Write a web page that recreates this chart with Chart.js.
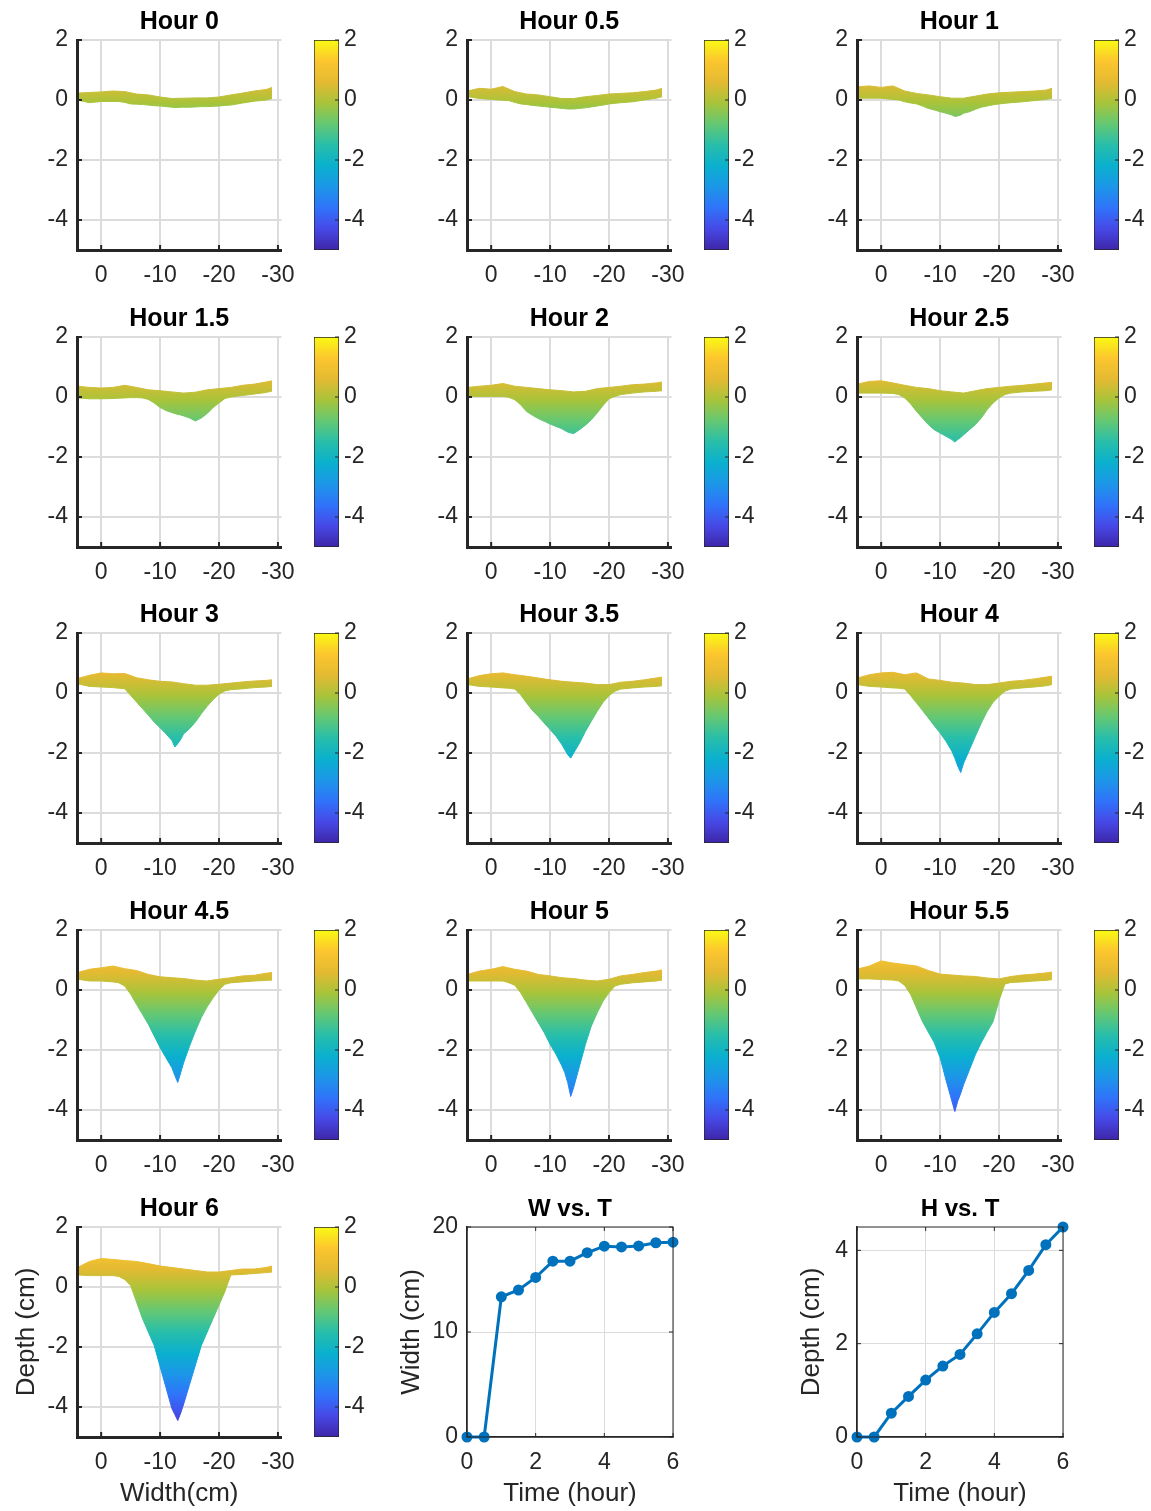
<!DOCTYPE html>
<html>
<head>
<meta charset="utf-8">
<title>Scour profiles</title>
<script src="https://cdn.jsdelivr.net/npm/chart.js@4.4.1/dist/chart.umd.min.js"></script>
<style>
  body { margin: 0; background: #fff; width: 1151px; height: 1511px; overflow: hidden; position: relative; }
  canvas { position: absolute; }
</style>
</head>
<body>
<script>
// time steps and the two summary series
const hours = [0, 0.5, 1, 1.5, 2, 2.5, 3, 3.5, 4, 4.5, 5, 5.5, 6];
const widthCm = [0, 0, 13.35, 14.0, 15.2, 16.75, 16.75, 17.55, 18.17, 18.1, 18.2, 18.5, 18.55];
const depthCm = [0, 0, 0.51, 0.87, 1.22, 1.52, 1.77, 2.21, 2.67, 3.07, 3.57, 4.12, 4.5];

// tick labels
const xTicks = [0, -10, -20, -30];
const yTicks = [2, 0, -2, -4];
const timeTicks = [0, 2, 4, 6];
const widthTicks = [0, 10, 20];
const depthTicks = [0, 2, 4];
const cbarRange = [-5, 2];

// x positions (cm) of the surface top edge and of the scour bottom edge
const topX = [4, 2, 0, -2, -4, -6, -8, -10, -12, -14, -16, -18, -20, -22, -24, -26, -28, -29];
const botX = [4, 2, 0, -2, -3, -4, -5, -6, -7, -8, -9, -10, -11, -12, -12.5, -13, -13.5, -14,
              -15, -16, -17, -18, -19, -20, -21, -22, -24, -26, -28, -29];

// upper edge of the scanned surface, one row per hour
const surfaceTop = [
  [0.23, 0.25, 0.27, 0.3, 0.28, 0.2, 0.17, 0.1, 0.05, 0.06, 0.07, 0.07, 0.1, 0.17, 0.23, 0.3, 0.35, 0.42],
  [0.3, 0.39, 0.36, 0.45, 0.28, 0.2, 0.17, 0.11, 0.05, 0.05, 0.11, 0.15, 0.2, 0.22, 0.24, 0.28, 0.33, 0.39],
  [0.44, 0.47, 0.42, 0.47, 0.3, 0.22, 0.17, 0.11, 0.06, 0.06, 0.13, 0.2, 0.24, 0.26, 0.28, 0.3, 0.33, 0.39],
  [0.36, 0.32, 0.3, 0.32, 0.39, 0.32, 0.24, 0.21, 0.17, 0.13, 0.16, 0.24, 0.28, 0.32, 0.39, 0.43, 0.5, 0.54],
  [0.32, 0.36, 0.39, 0.45, 0.36, 0.32, 0.28, 0.24, 0.21, 0.17, 0.19, 0.28, 0.32, 0.36, 0.41, 0.43, 0.47, 0.5],
  [0.43, 0.52, 0.54, 0.47, 0.39, 0.32, 0.28, 0.21, 0.17, 0.13, 0.21, 0.28, 0.32, 0.36, 0.39, 0.43, 0.47, 0.49],
  [0.48, 0.59, 0.67, 0.64, 0.65, 0.51, 0.44, 0.39, 0.37, 0.31, 0.26, 0.26, 0.29, 0.33, 0.37, 0.4, 0.42, 0.44],
  [0.47, 0.58, 0.64, 0.67, 0.61, 0.56, 0.5, 0.44, 0.39, 0.36, 0.33, 0.28, 0.28, 0.36, 0.39, 0.44, 0.5, 0.53],
  [0.5, 0.61, 0.67, 0.69, 0.61, 0.67, 0.47, 0.42, 0.36, 0.33, 0.28, 0.28, 0.33, 0.39, 0.42, 0.47, 0.53, 0.56],
  [0.58, 0.69, 0.74, 0.8, 0.71, 0.65, 0.52, 0.44, 0.41, 0.38, 0.33, 0.3, 0.36, 0.41, 0.47, 0.49, 0.56, 0.58],
  [0.52, 0.63, 0.69, 0.78, 0.69, 0.63, 0.52, 0.47, 0.41, 0.38, 0.33, 0.3, 0.36, 0.47, 0.52, 0.58, 0.63, 0.67],
  [0.7, 0.8, 0.97, 0.9, 0.85, 0.8, 0.65, 0.53, 0.5, 0.47, 0.45, 0.4, 0.37, 0.45, 0.5, 0.53, 0.57, 0.6],
  [0.65, 0.85, 0.95, 0.92, 0.88, 0.85, 0.78, 0.7, 0.65, 0.6, 0.55, 0.5, 0.5, 0.55, 0.6, 0.6, 0.65, 0.7]
];

// lowest scanned point (scour bottom), one row per hour
const scourBottom = [
  [0.0, -0.09, -0.05, -0.05, -0.05, -0.08, -0.13, -0.14, -0.15, -0.17, -0.19, -0.2, -0.22, -0.24, -0.25, -0.25, -0.24, -0.24, -0.24, -0.23, -0.22, -0.22, -0.21, -0.2, -0.18, -0.17, -0.1, -0.04, 0.0, 0.05],
  [0.11, 0.05, 0.02, -0.01, -0.02, -0.08, -0.13, -0.15, -0.18, -0.2, -0.22, -0.24, -0.26, -0.28, -0.29, -0.3, -0.3, -0.3, -0.28, -0.26, -0.23, -0.2, -0.17, -0.13, -0.11, -0.09, -0.06, 0.0, 0.06, 0.11],
  [0.06, 0.06, 0.06, 0.02, 0.0, -0.06, -0.1, -0.13, -0.2, -0.28, -0.33, -0.39, -0.44, -0.5, -0.55, -0.53, -0.5, -0.44, -0.39, -0.31, -0.24, -0.2, -0.16, -0.13, -0.11, -0.09, -0.06, -0.02, 0.02, 0.06],
  [-0.03, -0.06, -0.06, -0.05, -0.04, -0.03, -0.02, -0.02, -0.03, -0.08, -0.2, -0.35, -0.45, -0.52, -0.55, -0.58, -0.6, -0.63, -0.7, -0.8, -0.7, -0.55, -0.35, -0.2, -0.05, 0.0, 0.05, 0.1, 0.15, 0.2],
  [0.02, 0.02, 0.02, 0.02, -0.01, -0.09, -0.26, -0.48, -0.61, -0.72, -0.81, -0.9, -0.98, -1.06, -1.12, -1.17, -1.2, -1.22, -1.09, -0.94, -0.76, -0.53, -0.28, -0.06, 0.02, 0.08, 0.13, 0.17, 0.19, 0.21],
  [0.13, 0.13, 0.13, 0.12, 0.08, -0.03, -0.23, -0.48, -0.7, -0.92, -1.09, -1.2, -1.31, -1.42, -1.5, -1.42, -1.35, -1.26, -1.09, -0.92, -0.7, -0.42, -0.2, -0.03, 0.08, 0.13, 0.17, 0.19, 0.21, 0.24],
  [0.31, 0.22, 0.2, 0.18, 0.16, 0.14, -0.08, -0.3, -0.52, -0.74, -0.97, -1.16, -1.36, -1.58, -1.8, -1.69, -1.55, -1.36, -1.19, -0.97, -0.69, -0.44, -0.22, -0.04, 0.07, 0.11, 0.14, 0.18, 0.2, 0.22],
  [0.28, 0.22, 0.2, 0.17, 0.16, 0.13, -0.06, -0.33, -0.58, -0.78, -1.0, -1.22, -1.44, -1.72, -1.89, -2.06, -2.17, -2.0, -1.67, -1.28, -0.94, -0.61, -0.31, -0.09, 0.06, 0.13, 0.17, 0.2, 0.22, 0.24],
  [0.28, 0.22, 0.2, 0.17, 0.16, 0.13, -0.09, -0.33, -0.58, -0.83, -1.09, -1.33, -1.61, -1.94, -2.17, -2.44, -2.65, -2.33, -1.89, -1.44, -1.0, -0.61, -0.31, -0.11, 0.06, 0.13, 0.17, 0.2, 0.24, 0.28],
  [0.36, 0.3, 0.3, 0.27, 0.24, 0.13, -0.14, -0.48, -0.81, -1.14, -1.53, -1.92, -2.26, -2.59, -2.85, -3.08, -2.76, -2.42, -1.87, -1.37, -0.92, -0.56, -0.26, 0.0, 0.19, 0.24, 0.27, 0.3, 0.32, 0.33],
  [0.3, 0.3, 0.3, 0.3, 0.24, 0.16, -0.09, -0.42, -0.76, -1.09, -1.42, -1.81, -2.14, -2.53, -2.76, -3.09, -3.55, -3.25, -2.53, -1.81, -1.2, -0.76, -0.37, -0.09, 0.13, 0.19, 0.24, 0.27, 0.3, 0.33],
  [0.37, 0.37, 0.35, 0.33, 0.3, 0.15, -0.15, -0.6, -1.05, -1.4, -1.75, -2.25, -3.0, -3.7, -4.05, -3.7, -3.45, -3.15, -2.65, -2.15, -1.75, -1.39, -1.05, -0.35, 0.2, 0.25, 0.27, 0.3, 0.32, 0.35],
  [0.4, 0.38, 0.38, 0.38, 0.35, 0.25, 0.05, -0.5, -1.05, -1.5, -1.95, -2.65, -3.35, -4.05, -4.25, -4.45, -4.2, -3.9, -3.25, -2.6, -1.95, -1.5, -1.05, -0.6, -0.15, 0.4, 0.42, 0.45, 0.48, 0.5]
];

// parula-like colormap, 0 = bottom of colour range, 1 = top
const parulaStops = [
  [0.00, 'rgb(62,38,168)'],
  [0.10, 'rgb(71,72,230)'],
  [0.20, 'rgb(48,115,250)'],
  [0.30, 'rgb(28,150,232)'],
  [0.40, 'rgb(10,176,206)'],
  [0.50, 'rgb(40,190,170)'],
  [0.60, 'rgb(100,200,115)'],
  [0.70, 'rgb(168,196,58)'],
  [0.80, 'rgb(228,186,50)'],
  [0.90, 'rgb(252,198,46)'],
  [1.00, 'rgb(249,250,20)']
];

// layout of the 5x3 grid of axes
const colLeft = [77, 467, 857];
const rowTop = [40, 337, 633, 930, 1227];
const PLOT_W = 205, PLOT_H = 210;
const INK = '#262626';
const GRID = '#dcdcdc';

Chart.defaults.font.family = '"Liberation Sans", Arial, Helvetica, sans-serif';
Chart.defaults.color = INK;
Chart.defaults.animation = false;
Chart.defaults.plugins.legend.display = false;
Chart.defaults.plugins.tooltip.enabled = false;

function makeCanvas(left, top, w, h) {
  const c = document.createElement('canvas');
  c.width = w;
  c.height = h;
  c.style.left = left + 'px';
  c.style.top = top + 'px';
  c.style.width = w + 'px';
  c.style.height = h + 'px';
  document.body.appendChild(c);
  return c;
}

const fixedTicks = vals => scale => { scale.ticks = vals.map(v => ({ value: v })); };

// vertical gradient tied to the y scale so colour follows depth
function parulaFill(context) {
  const chart = context.chart;
  if (!chart.chartArea) return 'rgba(0,0,0,0)';
  const y = chart.scales.y;
  const g = chart.ctx.createLinearGradient(0, y.getPixelForValue(cbarRange[0]), 0, y.getPixelForValue(cbarRange[1]));
  parulaStops.forEach(([t, c]) => g.addColorStop(t, c));
  return g;
}

// bold title centred over the plot area
const panelTitle = {
  id: 'panelTitle',
  afterDraw(chart, args, opts) {
    const { ctx, chartArea: a } = chart;
    ctx.save();
    ctx.font = 'bold ' + opts.size + 'px "Liberation Sans", Arial, sans-serif';
    ctx.fillStyle = '#000';
    ctx.textAlign = 'center';
    ctx.textBaseline = 'middle';
    ctx.fillText(opts.text, (a.left + a.right) / 2, a.top - 18);
    ctx.restore();
  }
};

// short tick marks pointing into the axes, plus optional full frame
const inwardTicks = {
  id: 'inwardTicks',
  afterDraw(chart, args, o) {
    const { ctx, chartArea: a, scales } = chart;
    ctx.save();
    ctx.strokeStyle = INK;
    ctx.lineWidth = o.width;
    ctx.beginPath();
    if (o.bottom) {
      scales.x.ticks.forEach(t => {
        const p = scales.x.getPixelForValue(t.value);
        ctx.moveTo(p, a.bottom);
        ctx.lineTo(p, a.bottom - o.len);
        if (o.box) { ctx.moveTo(p, a.top); ctx.lineTo(p, a.top + o.len); }
      });
    }
    scales.y.ticks.forEach(t => {
      const p = scales.y.getPixelForValue(t.value);
      if (o.left) { ctx.moveTo(a.left, p); ctx.lineTo(a.left + o.len, p); }
      if (o.right) { ctx.moveTo(a.right, p); ctx.lineTo(a.right - o.len, p); }
    });
    ctx.stroke();
    if (o.box) ctx.strokeRect(a.left, a.top, a.right - a.left, a.bottom - a.top);
    ctx.restore();
  }
};

function profileChart(i) {
  const row = Math.floor(i / 3), col = i % 3;
  const last = i === hours.length - 1;
  const axisW = 77, axisH = last ? 74 : 45;
  const canvas = makeCanvas(colLeft[col] - axisW, rowTop[row] - 40, axisW + PLOT_W + 25, 40 + PLOT_H + axisH);
  new Chart(canvas, {
    type: 'line',
    data: {
      datasets: [
        {
          data: botX.map((x, k) => ({ x, y: scourBottom[i][k] })),
          borderColor: parulaFill, borderWidth: 1, pointRadius: 0, fill: false
        },
        {
          data: topX.map((x, k) => ({ x, y: surfaceTop[i][k] })),
          borderColor: parulaFill, backgroundColor: parulaFill, borderWidth: 1, pointRadius: 0, fill: '-1'
        }
      ]
    },
    options: {
      responsive: false,
      layout: { padding: { top: 40, right: 25, bottom: 0, left: 0 } },
      scales: {
        x: {
          type: 'linear', reverse: true, min: -30.6, max: 4.1,
          afterBuildTicks: fixedTicks(xTicks),
          afterFit: s => { s.height = axisH; },
          grid: { color: GRID, lineWidth: 2, drawTicks: false },
          border: { color: INK, width: 3, z: 1 },
          ticks: { font: { size: 23 }, padding: 12, maxRotation: 0 },
          title: { display: last, text: 'Width(cm)', font: { size: 26 }, padding: { top: 0, bottom: 2 } }
        },
        y: {
          min: -5, max: 2,
          afterBuildTicks: fixedTicks(yTicks),
          afterFit: s => { s.width = axisW; },
          grid: { color: GRID, lineWidth: 2, drawTicks: false },
          border: { color: INK, width: 3, z: 1 },
          ticks: { font: { size: 23 }, padding: 9 },
          title: { display: last, text: 'Depth (cm)', font: { size: 26 }, padding: { top: 11, bottom: 0 } }
        }
      },
      plugins: {
        panelTitle: { text: 'Hour ' + hours[i], size: 25 },
        inwardTicks: { len: 5, width: 2, bottom: true, left: true }
      }
    },
    plugins: [panelTitle, inwardTicks]
  });
}

function colorbar(i) {
  const row = Math.floor(i / 3), col = i % 3;
  const canvas = makeCanvas(colLeft[col] + 237, rowTop[row] - 40, 25 + 45, 40 + PLOT_H + 20);
  new Chart(canvas, {
    type: 'bar',
    data: {
      labels: [''],
      datasets: [{
        data: [cbarRange],
        backgroundColor: parulaFill,
        borderColor: INK, borderWidth: 1, borderSkipped: false,
        barPercentage: 1, categoryPercentage: 1
      }]
    },
    options: {
      responsive: false,
      // bottom padding leaves room for the lowest label's overflow so the bar keeps its full height
      layout: { padding: { top: 40, right: 0, bottom: 20, left: 0 } },
      scales: {
        x: { display: false },
        y: {
          position: 'right', min: cbarRange[0], max: cbarRange[1],
          afterBuildTicks: fixedTicks(yTicks),
          afterFit: s => { s.width = 45; },
          grid: { display: false, drawTicks: false },
          border: { display: false },
          ticks: { font: { size: 23 }, padding: 5 }
        }
      },
      plugins: { inwardTicks: { len: 4, width: 1, right: true } }
    },
    plugins: [inwardTicks]
  });
}

function summaryChart(col, title, values, yTickVals, yMax, yLabel, labelPad) {
  const axisW = 90, axisH = 74;
  const canvas = makeCanvas(colLeft[col] - axisW, rowTop[4] - 40, axisW + PLOT_W + 1 + 20, 40 + PLOT_H + axisH);
  new Chart(canvas, {
    type: 'line',
    data: {
      datasets: [{
        data: hours.map((t, k) => ({ x: t, y: values[k] })),
        borderColor: '#0072BD', backgroundColor: '#0072BD',
        borderWidth: 3, pointRadius: 4, pointHoverRadius: 4, clip: false
      }]
    },
    options: {
      responsive: false,
      layout: { padding: { top: 40, right: 20, bottom: 0, left: 0 } },
      scales: {
        x: {
          type: 'linear', min: 0, max: 6,
          afterBuildTicks: fixedTicks(timeTicks),
          afterFit: s => { s.height = axisH; },
          grid: { color: GRID, lineWidth: 1, drawTicks: false },
          border: { color: INK, width: 1.5 },
          ticks: { font: { size: 23 }, padding: 12, maxRotation: 0 },
          title: { display: true, text: 'Time (hour)', font: { size: 26 }, padding: { top: 0, bottom: 2 } }
        },
        y: {
          min: 0, max: yMax,
          afterBuildTicks: fixedTicks(yTickVals),
          afterFit: s => { s.width = axisW; },
          grid: { color: GRID, lineWidth: 1, drawTicks: false },
          border: { color: INK, width: 1.5 },
          ticks: { font: { size: 23 }, padding: 9 },
          title: { display: true, text: yLabel, font: { size: 26 }, padding: { top: labelPad, bottom: 0 } }
        }
      },
      plugins: {
        panelTitle: { text: title, size: 24 },
        inwardTicks: { len: 4, width: 1, bottom: true, left: true, right: true, box: true }
      }
    },
    plugins: [panelTitle, inwardTicks]
  });
}

hours.forEach((h, i) => {
  profileChart(i);
  colorbar(i);
});
summaryChart(1, 'W vs. T', widthCm, widthTicks, 20, 'Width (cm)', 19);
summaryChart(2, 'H vs. T', depthCm, depthTicks, Math.max(...depthCm), 'Depth (cm)', 29);
</script>
</body>
</html>
